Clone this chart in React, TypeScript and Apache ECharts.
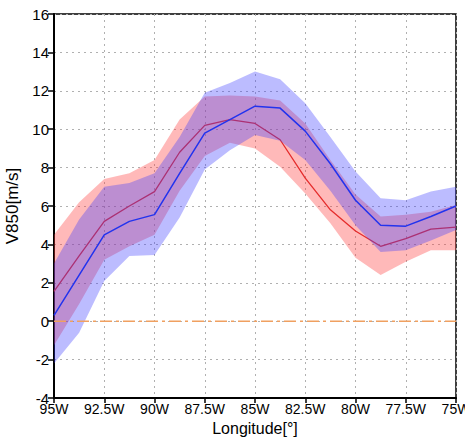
import React, { useEffect, useRef } from "react";
import * as echarts from "echarts";

const lons = [-95, -93.75, -92.5, -91.25, -90, -88.75, -87.5, -86.25, -85, -83.75, -82.5, -81.25, -80, -78.75, -77.5, -76.25, -75];
const blueMean = [0.3, 2.4, 4.5, 5.2, 5.55, 7.7, 9.8, 10.5, 11.2, 11.1, 9.9, 8.2, 6.3, 5.0, 4.95, 5.45, 6.0];
const redMean = [1.55, 3.4, 5.2, 6.0, 6.75, 8.8, 10.2, 10.5, 10.3, 9.45, 7.45, 5.8, 4.7, 3.9, 4.3, 4.8, 4.9];
const blueUpper = [3.0, 5.3, 7.0, 7.2, 7.7, 9.6, 11.9, 12.4, 13.0, 12.6, 11.35, 9.6, 7.8, 6.4, 6.3, 6.75, 7.0];
const blueLower = [-2.2, -0.6, 2.1, 3.4, 3.45, 5.4, 7.9, 8.9, 9.7, 9.4, 8.4, 6.8, 5.0, 3.6, 3.7, 4.2, 4.75];
const redUpper = [4.5, 6.2, 7.4, 7.7, 8.4, 10.5, 11.7, 11.75, 11.7, 11.5, 10.3, 8.4, 6.6, 5.45, 5.55, 5.7, 6.05];
const redLower = [-1.25, 0.9, 3.2, 3.9, 4.5, 6.8, 8.6, 9.3, 9.0, 8.05, 6.65, 5.1, 3.3, 2.4, 3.1, 3.7, 3.7];
const zeroLine = [0];

const FONT = "Liberation Sans";

function bandSeries(lo: number[], hi: number[], fill: string, z: number) {
  return {
    type: "custom",
    z,
    silent: true,
    data: lons.map((x, i) => [x, lo[i], hi[i]]),
    encode: { x: 0, y: [1, 2] },
    renderItem: (params: any, api: any) => {
      if (params.dataIndex !== 0) return null;
      const upperPts = lons.map((x, i) => api.coord([x, hi[i]]));
      const lowerPts = lons.map((x, i) => api.coord([x, lo[i]])).reverse();
      return {
        type: "polygon",
        shape: { points: upperPts.concat(lowerPts) },
        style: { fill },
      };
    },
  };
}

export default function App() {
  const ref = useRef<HTMLDivElement>(null);
  useEffect(() => {
    if (!ref.current) return;
    const chart = echarts.init(ref.current, null, { renderer: "svg" });
    const pts = (arr: number[]) => lons.map((x, i) => [x, arr[i]]);
    chart.setOption({
      animation: false,
      grid: {
        left: 54,
        right: 9,
        top: 14,
        bottom: 40,
        show: true,
        borderColor: "#000",
        borderWidth: 1.5,
        outerBoundsMode: "none",
        containLabel: false,
      },
      xAxis: {
        type: "value",
        min: -95,
        max: -75,
        interval: 2.5,
        name: "Longitude[°]",
        nameLocation: "middle",
        nameGap: 17,
        nameTextStyle: { fontFamily: FONT, fontSize: 16, color: "#000" },
        axisLine: { show: true, onZero: false, lineStyle: { color: "#000", width: 2 } },
        axisTick: { show: true, inside: false, length: 5, lineStyle: { color: "#000", width: 1.5 } },
        axisLabel: {
          fontFamily: FONT,
          fontSize: 14,
          color: "#000",
          margin: 4,
          formatter: (v: number) => `${Math.abs(v)}W`,
        },
        splitLine: { show: true, lineStyle: { color: "#b0b0b0", type: [2, 4], width: 1 } },
      },
      yAxis: {
        type: "value",
        min: -4,
        max: 16,
        interval: 2,
        name: "V850[m/s]",
        nameLocation: "middle",
        nameGap: 26,
        nameTextStyle: { fontFamily: FONT, fontSize: 17, color: "#000" },
        axisLine: { show: true, onZero: false, lineStyle: { color: "#000", width: 2 } },
        axisTick: { show: true, inside: false, length: 6, lineStyle: { color: "#000", width: 1.5 } },
        axisLabel: { fontFamily: FONT, fontSize: 15, color: "#000", margin: 5 },
        splitLine: { show: true, lineStyle: { color: "#b0b0b0", type: [2, 4], width: 1 } },
      },
      series: [
        bandSeries(redLower, redUpper, "rgba(255,60,60,0.36)", 1),
        {
          type: "line",
          data: pts(redMean),
          showSymbol: false,
          lineStyle: { color: "#e52c2c", width: 1.3 },
          z: 2,
        },
        bandSeries(blueLower, blueUpper, "rgba(60,60,255,0.34)", 3),
        {
          type: "line",
          data: pts(blueMean),
          showSymbol: false,
          lineStyle: { color: "#2233ee", width: 1.5 },
          z: 4,
        },
        {
          type: "line",
          data: lons.map((x) => [x, zeroLine[0]]),
          showSymbol: false,
          silent: true,
          lineStyle: { color: "#f0a060", width: 1.4, type: [12, 4, 3, 4] },
          z: 5,
        },
      ],
    });
    return () => chart.dispose();
  }, []);
  return <div ref={ref} style={{ width: 465, height: 438, position: "absolute", left: 0, top: 0 }} />;
}
